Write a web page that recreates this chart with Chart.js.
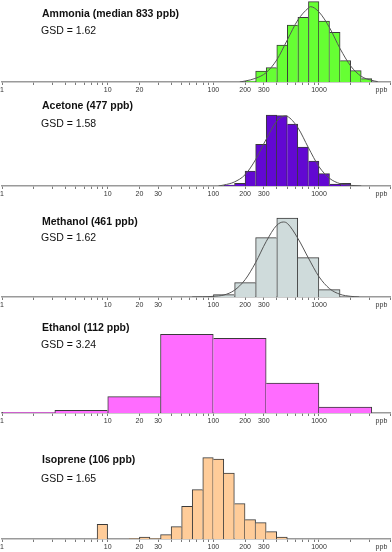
<!DOCTYPE html>
<html>
<head>
<meta charset="utf-8">
<script src="https://cdn.jsdelivr.net/npm/chart.js@4.4.1/dist/chart.umd.min.js"></script>
<style>
  body { margin: 0; background: #fff; }
  #wrap { position: relative; width: 392px; height: 552px; overflow: hidden; font-family: "Liberation Sans", Arial, sans-serif; }
  canvas { position: absolute; left: 0; }
  .title { position: absolute; left: 42px; font-size: 10.5px; font-weight: bold; line-height: 12px; color: #111; }
  .gsd { position: absolute; left: 41px; font-size: 10.5px; line-height: 12px; color: #111; }
</style>
</head>
<body>
<div id="wrap"></div>
<script>
// ---- log axis (ppb) ----
const axisMin = 1;
const axisMax = 4700;
const tickValues = [1, 2, 3, 4, 5, 6, 7, 8, 9, 10, 20, 30, 40, 50, 60, 70, 80, 90,
  100, 200, 300, 400, 500, 600, 700, 800, 900, 1000, 2000, 3000, 3900, 4700];
const labelsWith30 = [1, 10, 20, 30, 100, 200, 300, 1000];
const labelsNo30 = [1, 10, 20, 100, 200, 300, 1000];
const unitTick = 3900;   // "ppb" sits here, no tick mark

// ---- Ammonia (0.1 decade bins, x = bin centre in ppb) ----
const ammoniaX = [224, 282, 355, 447, 562, 708, 891, 1122, 1413, 1778, 2239, 2818];
const ammoniaN = [3, 33, 43, 111, 171, 194, 241, 183, 149, 64, 34, 10];
const ammoniaFitX = [178, 200, 251, 316, 398, 501, 631, 794, 832, 1000, 1259, 1585, 1995, 2512, 3162, 3600];
const ammoniaFitY = [0, 3, 11, 28, 66, 126, 186, 222, 226, 210, 163, 100, 48, 17, 5, 1];

// ---- Acetone ----
const acetoneX = [141, 178, 224, 282, 355, 447, 562, 708, 891, 1122, 1413, 1778];
const acetoneN = [3, 8, 45, 125, 213, 211, 186, 117, 75, 37, 6, 8];
const acetoneFitX = [112, 126, 158, 200, 251, 316, 398, 479, 501, 631, 794, 1000, 1259, 1585, 1995, 2512];
const acetoneFitY = [0, 3, 12, 34, 79, 140, 194, 210, 209, 175, 115, 58, 23, 7, 2, 0];

// ---- Methanol (0.2 decade bins) ----
const methanolX = [126, 200, 316, 501, 794, 1259];
const methanolN = [7, 43, 178, 237, 118, 22];
const methanolFitX = [63, 79, 100, 126, 158, 200, 251, 316, 398, 461, 501, 631, 794, 1000, 1259, 1585, 1995, 2400];
const methanolFitY = [0, 0.5, 2, 6, 20, 52, 103, 166, 215, 225, 221, 176, 117, 61, 25, 8, 2, 0];

// ---- Ethanol (0.5 decade bins) ----
const ethanolX = [1.78, 5.62, 17.8, 56.2, 178, 562, 1778];
const ethanolN = [2, 8, 49, 236, 224, 90, 18];

// ---- Isoprene (0.1 decade bins) ----
const isopreneX = [8.91, 17.8, 22.4, 28.2, 35.5, 44.7, 56.2, 70.8, 89.1, 112, 141, 178, 224, 282, 355, 447];
const isopreneN = [44, 1, 6, 1, 13, 37, 98, 148, 244, 240, 198, 106, 58, 49, 22, 6];

const panels = [
  { title: 'Ammonia (median 833 ppb)', gsd: 'GSD = 1.62', x: ammoniaX, n: ammoniaN, fx: ammoniaFitX, fy: ammoniaFitY,
    fill: '#66ff33', labels: labelsNo30, top: 0, h: 82, ymax: 246, ty: 13, gy: 30 },
  { title: 'Acetone (477 ppb)', gsd: 'GSD = 1.58', x: acetoneX, n: acetoneN, fx: acetoneFitX, fy: acetoneFitY,
    fill: '#6208d2', labels: labelsWith30, top: 104, h: 82, ymax: 246, ty: 105, gy: 123 },
  { title: 'Methanol (461 ppb)', gsd: 'GSD = 1.62', x: methanolX, n: methanolN, fx: methanolFitX, fy: methanolFitY,
    fill: '#cfdbdb', labels: labelsWith30, top: 215, h: 82, ymax: 246, ty: 221, gy: 237 },
  { title: 'Ethanol (112 ppb)', gsd: 'GSD = 3.24', x: ethanolX, n: ethanolN, fx: null, fy: null,
    fill: '#ff6cff', labels: labelsWith30, top: 320, h: 93, ymax: 279, ty: 327, gy: 344 },
  { title: 'Isoprene (106 ppb)', gsd: 'GSD = 1.65', x: isopreneX, n: isopreneN, fx: null, fy: null,
    fill: '#ffcc99', labels: labelsWith30, top: 448, h: 91, ymax: 273, ty: 459, gy: 478 }
];

const AXIS_H = 16;

// shared edge between two bars is drawn only by the taller one
function barBorder(ctx) {
  const d = ctx.dataset.data, i = ctx.dataIndex;
  const v = d[i].y;
  const left = (i === 0 || v >= d[i - 1].y) ? 1 : 0;
  const right = (i === d.length - 1 || v > d[i + 1].y) ? 1 : 0;
  return { top: 1, left: left, right: right, bottom: 0 };
}

const wrap = document.getElementById('wrap');

panels.forEach(p => {
  const cv = document.createElement('canvas');
  cv.width = 392;
  cv.height = p.h + AXIS_H;
  cv.style.top = p.top + 'px';
  wrap.appendChild(cv);

  const datasets = [];
  if (p.fx) {
    datasets.push({
      type: 'line',
      data: p.fx.map((x, i) => ({ x: x, y: p.fy[i] })),
      xAxisID: 'x', yAxisID: 'y',
      borderColor: '#555', borderWidth: 1, pointRadius: 0,
      cubicInterpolationMode: 'monotone', fill: false, order: 0
    });
  }
  datasets.push({
    type: 'bar',
    data: p.x.map((x, i) => ({ x: x, y: p.n[i] })),
    xAxisID: 'xb', yAxisID: 'y',
    backgroundColor: p.fill, borderColor: '#3a3a3a', borderWidth: barBorder,
    borderSkipped: false, grouped: false, categoryPercentage: 1, barPercentage: 1, order: 1
  });

  new Chart(cv, {
    type: 'bar',
    data: { datasets: datasets },
    options: {
      responsive: false,
      animation: false,
      layout: { padding: { left: 2, right: 2, top: 0, bottom: 0 } },
      plugins: { legend: { display: false }, tooltip: { enabled: false } },
      scales: {
        x: {
          type: 'logarithmic', min: axisMin, max: axisMax, offset: false,
          afterBuildTicks: s => { s.ticks = tickValues.map(v => ({ value: v })); },
          afterFit: s => { s.height = AXIS_H; s.paddingLeft = 0; s.paddingRight = 0; },
          grid: {
            drawOnChartArea: false, drawTicks: true, tickLength: 3, offset: false,
            color: c => (c.tick && c.tick.value === unitTick) ? 'rgba(0,0,0,0)' : '#7a7a7a'
          },
          border: { display: true, color: '#9a9a9a', width: 1.5 },
          ticks: {
            autoSkip: false, maxRotation: 0, minRotation: 0, padding: 1,
            color: '#333', font: { size: 7, family: '"Liberation Sans", Arial, sans-serif' },
            callback: v => v === unitTick ? 'ppb' : (p.labels.includes(v) ? String(v) : '')
          }
        },
        xb: {
          type: 'logarithmic', display: false, min: axisMin, max: axisMax, offset: false,
          afterBuildTicks: s => { s.ticks = [{ value: axisMin }, { value: axisMax }]; }
        },
        y: { display: false, min: 0, max: p.ymax }
      }
    }
  });

  const t = document.createElement('div');
  t.className = 'title';
  t.style.top = (p.ty - 6) + 'px';
  t.textContent = p.title;
  wrap.appendChild(t);

  const g = document.createElement('div');
  g.className = 'gsd';
  g.style.top = (p.gy - 6) + 'px';
  g.textContent = p.gsd;
  wrap.appendChild(g);
});
</script>
</body>
</html>
